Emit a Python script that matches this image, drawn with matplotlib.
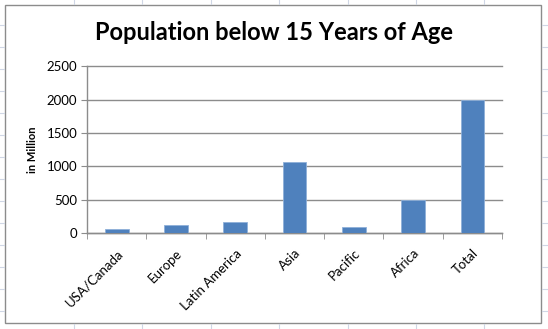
import numpy as np
import matplotlib.pyplot as plt
from matplotlib.patches import Rectangle
from matplotlib.lines import Line2D

regions = ["USA/Canada", "Europe", "Latin America", "Asia", "Pacific", "Africa", "Total"]
population = [60, 115, 160, 1070, 95, 500, 2000]
y_ticks = [0, 500, 1000, 1500, 2000, 2500]

plt.rcParams['font.family'] = ['Lato', 'DejaVu Sans']

fig = plt.figure(figsize=(5.48, 3.29), dpi=100)
W, H = 548, 329

# spreadsheet grid stubs around the chart
for gx in [74, 142, 211, 279, 348, 416, 484]:
    fig.add_artist(Line2D([gx / W, gx / W], [1, 1 - 4 / H], color="#d0d7e5", lw=0.8))
    fig.add_artist(Line2D([gx / W, gx / W], [0, 5 / H], color="#d0d7e5", lw=0.8))
for gy in [25, 47, 69, 91, 113, 135, 157, 179, 201, 223, 245, 267, 289, 311]:
    fig.add_artist(Line2D([0, 4 / W], [1 - gy / H, 1 - gy / H], color="#d0d7e5", lw=0.8))
    fig.add_artist(Line2D([1 - 6 / W, 1], [1 - gy / H, 1 - gy / H], color="#d0d7e5", lw=0.8))

# chart area border
fig.add_artist(Rectangle((5 / W, 1 - 323 / H), 536 / W, 318 / H, fill=False,
                         edgecolor="#8c8c8c", lw=1.0))

ax = fig.add_axes([87 / W, 1 - 233 / H, (502 - 87) / W, (233 - 66.5) / H])
x = np.arange(len(regions))
ax.bar(x, population, width=0.4, color="#4f81bd", edgecolor="#8fb0d9", linewidth=0.6, zorder=3)

ax.set_xlim(-0.5, len(regions) - 0.5)
ax.set_ylim(0, 2500)
ax.set_yticks(y_ticks)
ax.set_yticklabels([str(v) for v in y_ticks], fontsize=9.5)
ax.yaxis.grid(True, color="#8c8c8c", lw=1.0, zorder=0)
for gl in ax.get_ygridlines():
    gl.set_clip_on(False)
ax.tick_params(axis="y", length=4, color="#8c8c8c", pad=3)

ax.set_xticks(x)
ax.set_xticklabels(regions, rotation=45, ha="right", rotation_mode="anchor", fontsize=9.5)
ax.set_xticks(np.arange(-0.5, len(regions)), minor=True)
ax.tick_params(axis="x", which="major", length=0, pad=10)
ax.tick_params(axis="x", which="minor", length=4, color="#8c8c8c")

for side in ["top", "right"]:
    ax.spines[side].set_visible(False)
for side in ["left", "bottom"]:
    ax.spines[side].set_color("#8c8c8c")
    ax.spines[side].set_linewidth(1.0)

ax.set_ylabel("in Million", fontsize=8, fontweight="bold", labelpad=6)

fig.text(0.5, 1 - 33 / H, "Population below 15 Years of Age", ha="center", va="center",
         fontsize=17, fontweight="bold")

plt.savefig("out.png", dpi=100)
